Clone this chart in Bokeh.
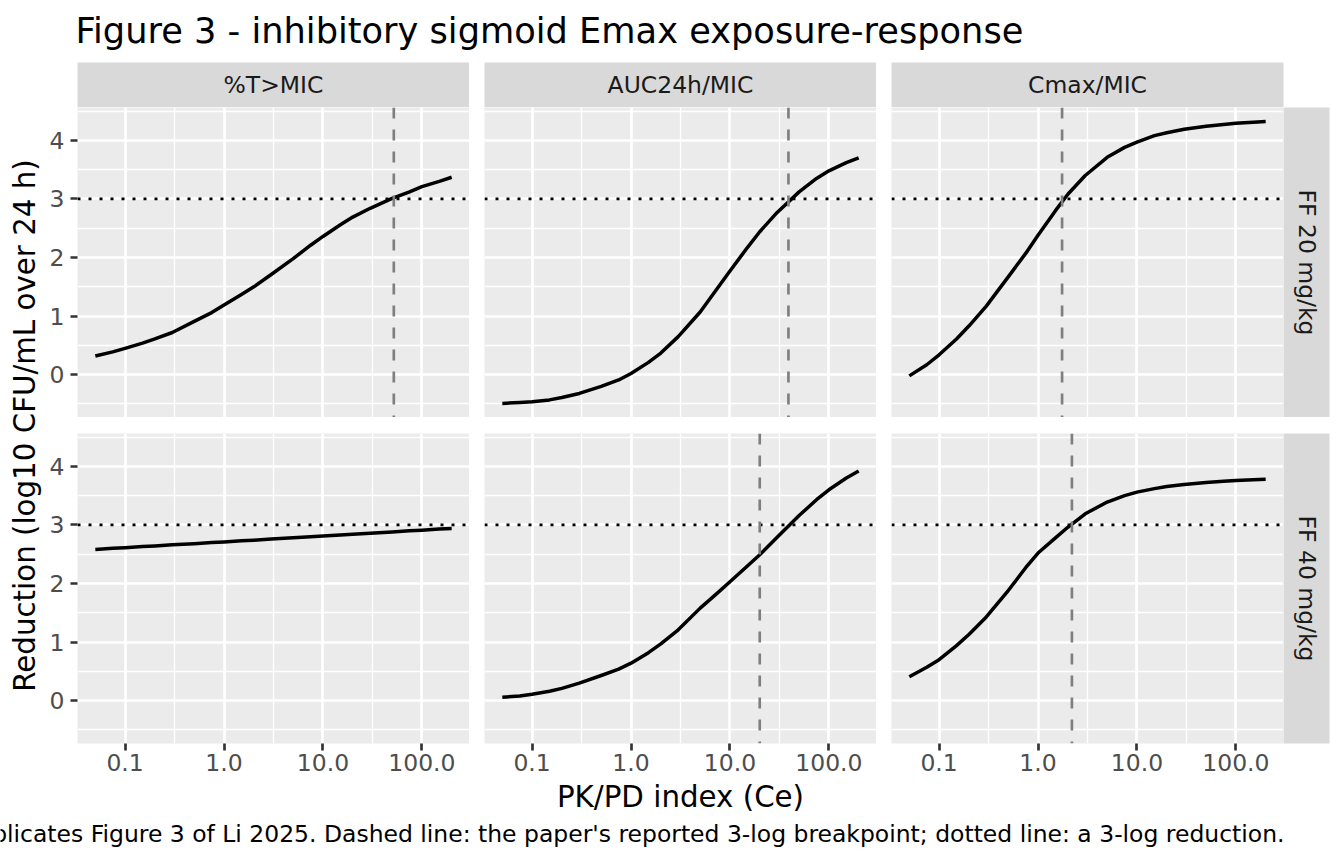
import math
from bokeh.plotting import figure
from bokeh.models import Range1d, FixedTicker, Span, PrintfTickFormatter, Grid
from bokeh.layouts import row, column
from bokeh.core.properties import value
from bokeh.embed import file_html
from bokeh.resources import INLINE

# ---------------- data ----------------
TITLE = "Figure 3 - inhibitory sigmoid Emax exposure-response"
X_LABEL = "PK/PD index (Ce)"
Y_LABEL = "Reduction (log10 CFU/mL over 24 h)"
CAPTION = ("Replicates Figure 3 of Li 2025. Dashed line: the paper's reported 3-log "
           "breakpoint; dotted line: a 3-log reduction.")

indices = ["%T>MIC", "AUC24h/MIC", "Cmax/MIC"]
doses = ["FF 20 mg/kg", "FF 40 mg/kg"]

ce = [0.05, 0.075, 0.1, 0.15, 0.2, 0.3, 0.5, 0.75, 1.0, 1.5, 2.0, 3.0,
      5.0, 7.5, 10.0, 15.0, 20.0, 30.0, 50.0, 75.0, 100.0, 150.0, 200.0]

tmic_20 = [0.32, 0.39, 0.45, 0.54, 0.61, 0.72, 0.91, 1.06, 1.19, 1.37, 1.50, 1.71,
           1.98, 2.21, 2.36, 2.56, 2.69, 2.84, 3.01, 3.12, 3.21, 3.30, 3.37]
tmic_40 = [2.58, 2.60, 2.61, 2.63, 2.64, 2.66, 2.68, 2.70, 2.71, 2.73, 2.74, 2.76,
           2.78, 2.80, 2.81, 2.83, 2.84, 2.86, 2.88, 2.90, 2.91, 2.93, 2.94]
auc_20 = [-0.49, -0.475, -0.46, -0.43, -0.39, -0.32, -0.20, -0.09, 0.02, 0.21, 0.37, 0.65,
          1.07, 1.48, 1.77, 2.17, 2.44, 2.77, 3.12, 3.35, 3.48, 3.62, 3.70]
auc_40 = [0.06, 0.08, 0.11, 0.16, 0.21, 0.30, 0.43, 0.54, 0.64, 0.82, 0.97, 1.21,
          1.58, 1.84, 2.03, 2.30, 2.49, 2.79, 3.16, 3.43, 3.60, 3.80, 3.92]
cmax_20 = [-0.02, 0.17, 0.34, 0.61, 0.83, 1.17, 1.67, 2.07, 2.38, 2.80, 3.08, 3.40,
           3.71, 3.88, 3.97, 4.08, 4.13, 4.19, 4.24, 4.27, 4.29, 4.31, 4.32]
cmax_40 = [0.41, 0.57, 0.70, 0.94, 1.13, 1.43, 1.88, 2.27, 2.52, 2.78, 2.96, 3.19,
           3.39, 3.50, 3.56, 3.62, 3.655, 3.69, 3.725, 3.745, 3.76, 3.77, 3.78]

breakpoint_20 = [52.0, 39.0, 1.75]
breakpoint_40 = [None, 20.0, 2.2]
threshold = 3.0

x_ticks = [0.1, 1.0, 10.0, 100.0]
x_minor = [0.0316, 0.316, 3.16, 31.6, 316.0]
y_ticks = [0, 1, 2, 3, 4]
y_minor = [-0.5, 0.5, 1.5, 2.5, 3.5, 4.5]

curves = [[tmic_20, auc_20, cmax_20], [tmic_40, auc_40, cmax_40]]
breakpoints = [breakpoint_20, breakpoint_40]

# ---------------- styling ----------------
FONT = "DejaVu Sans"
PANEL_BG = "#EBEBEB"
STRIP_BG = "#D9D9D9"
LW = 2.67
SMALL = 23.47
AXT = 29.3
TTL = 35.2
SH = 0.36  # baseline shift of bokeh text anchor (fraction of font size)

# ranges (ggplot-like 5% expansion)
lx0, lx1 = math.log10(min(ce)), math.log10(max(ce))
ex = 0.05 * (lx1 - lx0)
XR = (10 ** (lx0 - ex), 10 ** (lx1 + ex))
allv = [v for rr in curves for c in rr for v in c]
y0, y1 = min(allv), max(allv)
ey = 0.05 * (y1 - y0)
YR = (y0 - ey, y1 + ey)

FW, FH = 392, 310
RIGHT = 15
BOT = 80


def strip_grids(p):
    p.center = [r for r in p.center if not isinstance(r, Grid)]


def base_fig(**kw):
    return figure(output_backend="svg", toolbar_location=None, title=None,
                  outline_line_color=None, border_fill_color="white", **kw)


def panel(r, c):
    left = 31 if c == 0 else 15
    top = 0 if r == 0 else 16
    bottom = 0 if r == 0 else BOT
    p = base_fig(frame_width=FW, frame_height=FH, x_axis_type="log",
                 x_range=Range1d(*XR), y_range=Range1d(*YR),
                 x_axis_location="below" if r == 1 else None,
                 y_axis_location="left" if c == 0 else None,
                 min_border_left=left, min_border_right=0,
                 min_border_top=top, min_border_bottom=bottom,
                 background_fill_color=PANEL_BG)
    strip_grids(p)
    for dim, tk, mn in ((0, x_ticks, x_minor), (1, y_ticks, y_minor)):
        p.add_layout(Grid(dimension=dim, ticker=FixedTicker(ticks=tk, minor_ticks=mn),
                          grid_line_color="white", grid_line_width=LW,
                          minor_grid_line_color="white", minor_grid_line_width=LW / 2))
    for ax in p.xaxis + p.yaxis:
        ax.axis_line_color = None
        ax.major_tick_line_color = "#333333"
        ax.major_tick_line_width = LW
        ax.major_tick_out = 7
        ax.major_tick_in = 0
        ax.minor_tick_line_color = None
        ax.major_label_text_font = FONT
        ax.major_label_text_font_size = f"{SMALL}px"
        ax.major_label_text_color = "#4D4D4D"
    if r == 1:
        p.xaxis.ticker = FixedTicker(ticks=x_ticks)
        p.xaxis.formatter = PrintfTickFormatter(format="%.1f")
        p.xaxis.major_label_standoff = 3
        if c == 1:
            p.xaxis.axis_label = X_LABEL
            p.xaxis.axis_label_text_font = FONT
            p.xaxis.axis_label_text_font_size = f"{AXT}px"
            p.xaxis.axis_label_text_font_style = "normal"
            p.xaxis.axis_label_text_color = "black"
            p.xaxis.axis_label_standoff = 6
    if c == 0:
        p.yaxis.ticker = FixedTicker(ticks=y_ticks)
        p.yaxis.major_label_standoff = 6
    p.line(ce, curves[r][c], line_color="black", line_width=3.5, line_join="round")
    p.add_layout(Span(location=threshold, dimension="width", line_color="black",
                      line_dash="3 8", line_width=LW))
    bp = breakpoints[r][c]
    if bp is not None:
        p.add_layout(Span(location=bp, dimension="height", line_color="#7F7F7F",
                          line_dash="11 11", line_width=LW))
    return p


def top_strip(c):
    s = base_fig(frame_width=FW, frame_height=45, x_range=Range1d(0, 1), y_range=Range1d(0, 45),
                 x_axis_location=None, y_axis_location=None,
                 min_border_left=31 if c == 0 else 15, min_border_right=46 + RIGHT if c == 2 else 0,
                 min_border_top=0, min_border_bottom=0, background_fill_color=STRIP_BG)
    strip_grids(s)
    s.text(x=[0.5], y=[45 - (31.3 - SH * SMALL)], text=[indices[c]], text_align="center",
           text_baseline="alphabetic", text_font=value(FONT), text_font_size=f"{SMALL}px",
           text_color="#1A1A1A")
    return s


def right_strip(r):
    s = base_fig(frame_width=46, frame_height=FH, x_range=Range1d(0, 46), y_range=Range1d(0, 1),
                 x_axis_location=None, y_axis_location=None,
                 min_border_left=0, min_border_right=RIGHT,
                 min_border_top=0 if r == 0 else 16, min_border_bottom=0 if r == 0 else BOT,
                 background_fill_color=STRIP_BG)
    strip_grids(s)
    s.text(x=[15.3 + SH * SMALL], y=[0.5], text=[doses[r]], angle=-math.pi / 2,
           text_align="center", text_baseline="alphabetic", text_font=value(FONT),
           text_font_size=f"{SMALL}px", text_color="#1A1A1A")
    return s


def canvas(w, h):
    f = base_fig(width=w, height=h, x_range=Range1d(0, w), y_range=Range1d(0, h),
                 x_axis_location=None, y_axis_location=None, min_border=0,
                 background_fill_color="white")
    strip_grids(f)
    return f


W = 1344
TOP_H = 62
MID_H = 45 + FH + 16 + FH + BOT
BOT_H = 864 - TOP_H - MID_H

title_fig = canvas(W, TOP_H)
title_fig.text(x=[74.9], y=[TOP_H - (42.5 - SH * TTL)], text=[TITLE], text_align="left",
               text_baseline="alphabetic", text_font=value(FONT), text_font_size=f"{TTL}px",
               text_color="black")

ylab_fig = canvas(46, MID_H)
ylab_fig.text(x=[35 - SH * AXT], y=[MID_H - (425 - TOP_H)], text=[Y_LABEL], angle=math.pi / 2,
              text_align="center", text_baseline="alphabetic", text_font=value(FONT),
              text_font_size=f"{AXT}px", text_color="black")

cap_fig = canvas(W, BOT_H)
cap_top = TOP_H + MID_H
cap_fig.text(x=[1284], y=[BOT_H - (842 - cap_top - SH * SMALL)], text=[CAPTION],
             text_align="right", text_baseline="alphabetic", text_font=value(FONT),
             text_font_size=f"{SMALL}px", text_color="black")

strips_row = row(top_strip(0), top_strip(1), top_strip(2))
top_row = row(panel(0, 0), panel(0, 1), panel(0, 2), right_strip(0))
bot_row = row(panel(1, 0), panel(1, 1), panel(1, 2), right_strip(1))
grid_col = column(strips_row, top_row, bot_row)
layout = column(title_fig, row(ylab_fig, grid_col), cap_fig)

open("out.html", "w").write(file_html(layout, INLINE))
